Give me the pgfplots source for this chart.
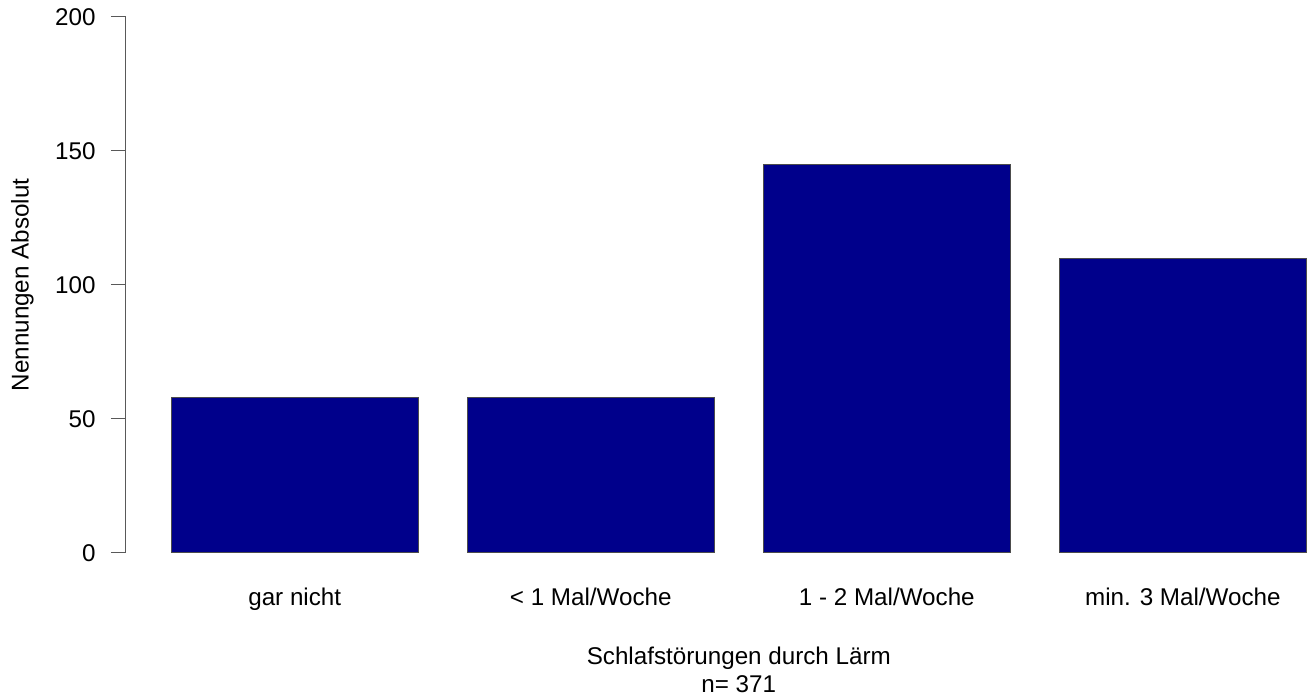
\documentclass[border=0pt]{standalone}
\usepackage{fontspec}
\setmainfont{Liberation Sans}
\usepackage{pgfplots}
\pgfplotsset{compat=1.18}
\definecolor{barblue}{RGB}{0,0,139}
\begin{document}
\fontsize{12}{14.4}\selectfont
\begin{tikzpicture}
\begin{axis}[
  at={(63pt,71pt)}, anchor=south west,
  scale only axis, width=612.8pt, height=268pt,
  xmin=0.016, xmax=4.984, ymin=0, ymax=200,
  axis lines*=left,
  axis line style={-, black!65, line width=0.5pt},
  x axis line style={draw=none},
  ytick={0,50,100,150,200},
  xtick={0.7,1.9,3.1,4.3},
  xticklabels={gar nicht,{< 1 Mal/Woche},{1 - 2 Mal/Woche},{min. 3 Mal/Woche}},
  tick align=outside,
  major tick length=7.5pt,
  y tick style={black!65, line width=0.5pt},
  x tick style={draw=none},
  /pgf/number format/assume math mode=true,
  tick label style={font=\fontsize{12.1}{14.5}\selectfont},
  yticklabel style={anchor=east, xshift=-3.5pt},
  xticklabel style={anchor=base, yshift=-19pt},
  label style={font=\fontsize{12.1}{14}\selectfont},
  xlabel={Schlafstörungen durch Lärm\\n= 371},
  xlabel style={at={(axis description cs:0.5,0)}, anchor=north, yshift=-43pt, align=center},
  ylabel={Nennungen Absolut},
  ylabel style={at={(axis description cs:0,0.5)}, anchor=south, yshift=42pt},
  clip=false,
]
\addplot[ybar, bar width=1, bar shift=0, fill=barblue, draw=black!70, line width=0.5pt]
  coordinates {(0.7,58) (1.9,58) (3.1,145) (4.3,110)};
\end{axis}
\pgfresetboundingbox
\useasboundingbox (0,0) rectangle (656.5pt,347.5pt);
\end{tikzpicture}
\end{document}
